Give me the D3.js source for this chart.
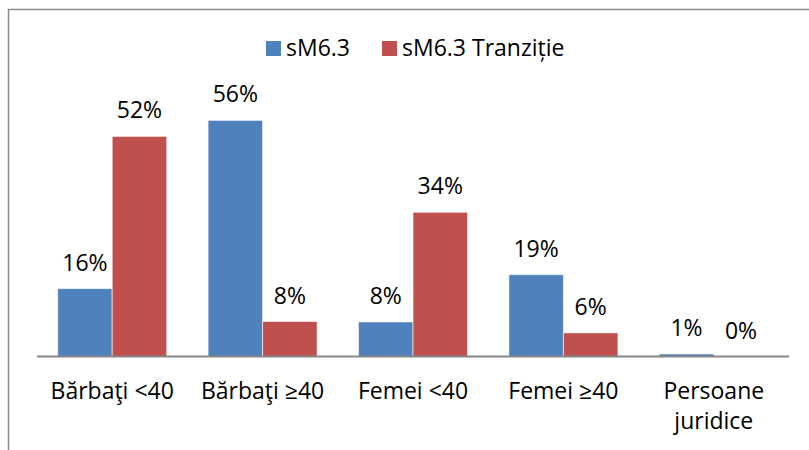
<!DOCTYPE html>
<html>
<head>
<meta charset="utf-8">
<script src="https://cdn.jsdelivr.net/npm/d3@7"></script>
<style>
    body { margin: 0; background: #fff; }
    svg { display: block; font-family: "Open Sans", sans-serif; }
</style>
</head>
<body>
<div id="chart"></div>
<script>
    // 数据
    const categories = ['Bărbaţi <40', 'Bărbaţi ≥40', 'Femei <40', 'Femei ≥40', 'Persoane juridice'];
    const seriesNames = ['sM6.3', 'sM6.3 Tranziție'];
    const valuesSM63 = [16.1, 56.0, 8.2, 19.4, 0.6];
    const valuesTranzitie = [52.2, 8.3, 34.2, 5.6, 0.0];
    const colors = ['#4F81BD', '#C0504D'];

    const width = 809, height = 450;
    const svg = d3.select('#chart').append('svg')
        .attr('width', width)
        .attr('height', height);

    // 外框
    svg.append('path')
        .attr('d', `M8.5,${height} V9.5 H${width}`)
        .attr('fill', 'none')
        .attr('stroke', '#8c8c8c')
        .attr('stroke-width', 1.5);

    const x0 = d3.scaleBand()
        .domain(categories)
        .range([37, 789])
        .paddingInner(0.275)
        .paddingOuter(0.1375);

    const x1 = d3.scaleBand()
        .domain(seriesNames)
        .range([0, x0.bandwidth()]);

    const y = d3.scaleLinear()
        .domain([0, 60])
        .range([356.5, 103.5]);

    const rows = categories.map((c, i) => ({
        cat: c,
        vals: [valuesSM63[i], valuesTranzitie[i]]
    }));

    const groups = svg.selectAll('.grp')
        .data(rows)
        .enter().append('g')
        .attr('class', 'grp')
        .attr('transform', d => `translate(${x0(d.cat)},0)`);

    groups.selectAll('rect')
        .data(d => d.vals.map((v, j) => ({ v: v, s: seriesNames[j], j: j })))
        .enter().append('rect')
        .attr('x', d => x1(d.s))
        .attr('y', d => y(d.v))
        .attr('width', x1.bandwidth())
        .attr('height', d => y(0) - y(d.v))
        .attr('fill', d => colors[d.j])
        .attr('stroke', '#fff')
        .attr('stroke-opacity', 0.6)
        .attr('stroke-width', 1);

    // 数据标签
    groups.selectAll('.lbl')
        .data(d => d.vals.map((v, j) => ({ v: v, s: seriesNames[j] })))
        .enter().append('text')
        .attr('class', 'lbl')
        .attr('x', d => x1(d.s) + x1.bandwidth() / 2)
        .attr('y', d => y(d.v) - 18)
        .attr('text-anchor', 'middle')
        .attr('font-size', 23)
        .attr('fill', '#000')
        .text(d => Math.round(d.v) + '%');

    // 横轴
    svg.append('line')
        .attr('x1', 37).attr('x2', 789)
        .attr('y1', y(0)).attr('y2', y(0))
        .attr('stroke', '#868686')
        .attr('stroke-width', 2);

    // 分类标签
    const catLabels = svg.selectAll('.cat')
        .data(categories)
        .enter().append('text')
        .attr('class', 'cat')
        .attr('x', d => x0(d) + x0.bandwidth() / 2)
        .attr('y', 399)
        .attr('text-anchor', 'middle')
        .attr('font-size', 23)
        .attr('fill', '#000');

    catLabels.each(function(d) {
        const t = d3.select(this);
        const words = d === 'Persoane juridice' ? ['Persoane', 'juridice'] : [d];
        words.forEach((w, k) => {
            t.append('tspan')
                .attr('x', t.attr('x'))
                .attr('dy', k === 0 ? 0 : 30)
                .text(w);
        });
    });

    // 图例
    const legend = svg.append('g');
    const legendItems = [
        { name: seriesNames[0], color: colors[0], x: 266 },
        { name: seriesNames[1], color: colors[1], x: 382 }
    ];
    legendItems.forEach(item => {
        legend.append('rect')
            .attr('x', item.x).attr('y', 41)
            .attr('width', 15).attr('height', 15)
            .attr('fill', item.color);
        legend.append('text')
            .attr('x', item.x + 20)
            .attr('y', 56)
            .attr('font-size', 23)
            .attr('fill', '#000')
            .text(item.name);
    });
</script>
</body>
</html>
